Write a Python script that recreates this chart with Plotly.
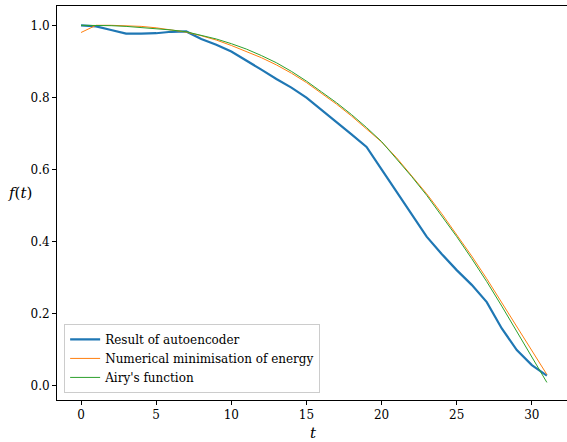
import plotly.graph_objects as go

t = list(range(32))

autoencoder = [1.000, 0.997, 0.987, 0.977, 0.977, 0.978, 0.982, 0.983, 0.962, 0.946,
               0.927, 0.903, 0.877, 0.851, 0.827, 0.799, 0.764, 0.731, 0.697, 0.662,
               0.600, 0.538, 0.476, 0.413, 0.365, 0.320, 0.279, 0.231, 0.158, 0.098,
               0.056, 0.027]

numerical = [0.980, 1.000, 1.000, 0.999, 0.997, 0.993, 0.988, 0.981, 0.971, 0.959,
             0.944, 0.928, 0.910, 0.890, 0.867, 0.841, 0.811, 0.781, 0.748, 0.713,
             0.676, 0.632, 0.583, 0.532, 0.477, 0.419, 0.359, 0.296, 0.230, 0.162,
             0.095, 0.030]

airy = [1.000, 1.000, 0.999, 0.997, 0.994, 0.991, 0.987, 0.982, 0.973, 0.962,
        0.949, 0.934, 0.916, 0.896, 0.872, 0.845, 0.815, 0.785, 0.752, 0.716,
        0.677, 0.630, 0.580, 0.528, 0.472, 0.413, 0.352, 0.288, 0.220, 0.150,
        0.079, 0.008]

names = ["Result of autoencoder", "Numerical minimisation of energy", "Airy's function"]
colors = ["#1f77b4", "#ff7f0e", "#2ca02c"]
widths = [2.2, 1.0, 1.0]

fig = go.Figure()
for ys, nm, c, w in zip([autoencoder, numerical, airy], names, colors, widths):
    fig.add_trace(go.Scatter(x=t, y=ys, mode="lines", name=nm,
                             line=dict(color=c, width=w)))

FONT = "DejaVu Serif"

fig.update_layout(
    width=567, height=442,
    margin=dict(l=57, r=0, t=6, b=42, autoexpand=False),
    paper_bgcolor="white", plot_bgcolor="white",
    font=dict(family=FONT, size=12, color="black"),
    showlegend=True,
    legend=dict(x=0.014, y=0.018, xanchor="left", yanchor="bottom",
                bgcolor="rgba(255,255,255,0.8)", bordercolor="#cccccc",
                borderwidth=1, font=dict(family=FONT, size=12),
                tracegroupgap=0, itemwidth=30),
)

fig.update_xaxes(range=[-1.6, 32.34], tickvals=[0, 5, 10, 15, 20, 25, 30],
                 automargin=False,
                 showgrid=False, zeroline=False, showline=True, linecolor="black",
                 linewidth=1, mirror=True, ticks="outside", ticklen=4,
                 tickwidth=0.8, tickcolor="black",
                 tickfont=dict(family=FONT, size=12))
fig.update_yaxes(range=[-0.0408, 1.0536], tickvals=[0.0, 0.2, 0.4, 0.6, 0.8, 1.0],
                 tickformat=".1f", automargin=False,
                 showgrid=False, zeroline=False, showline=True, linecolor="black",
                 linewidth=1, mirror=False, ticks="outside", ticklen=4,
                 tickwidth=0.8, tickcolor="black",
                 tickfont=dict(family=FONT, size=12))

fig.add_annotation(text="<i>f</i>(<i>t</i>)", xref="paper", yref="paper",
                   x=-0.0725, y=0.525, xanchor="center", yanchor="middle",
                   showarrow=False, font=dict(family=FONT, size=15))
fig.add_annotation(text="<i>t</i>", xref="paper", yref="paper",
                   x=0.502, y=-0.084, xanchor="center", yanchor="middle",
                   showarrow=False, font=dict(family=FONT, size=15))

fig.write_html("out.html", config={"displayModeBar": False},
               post_script="document.body.style.margin='0';document.body.style.padding='0';")
